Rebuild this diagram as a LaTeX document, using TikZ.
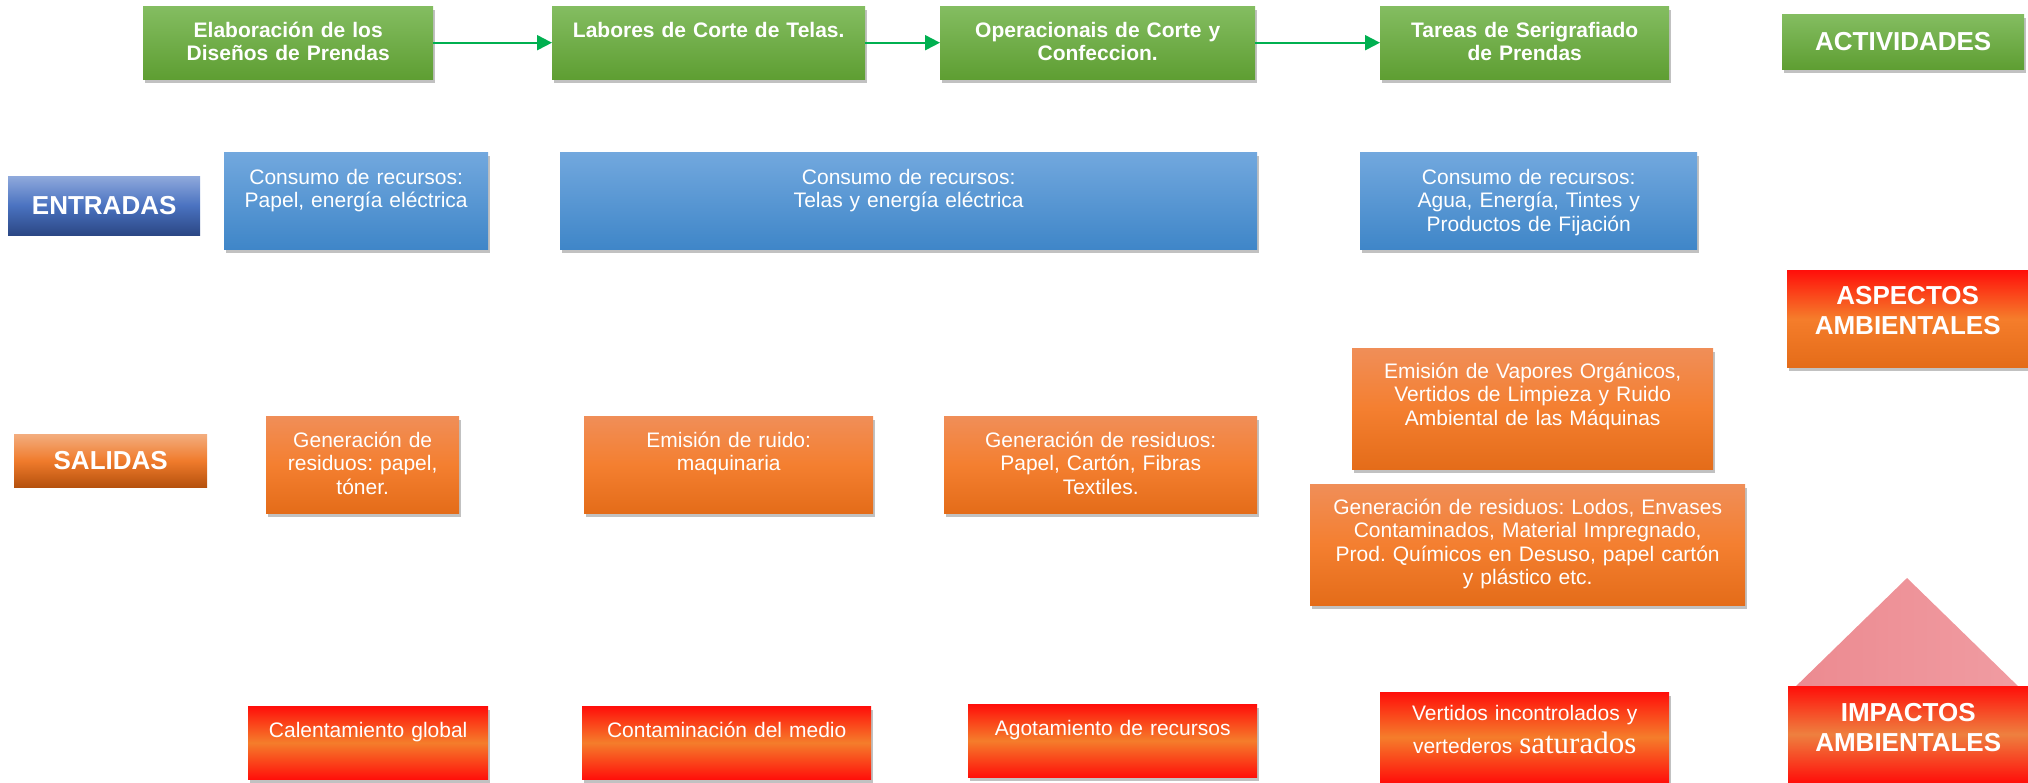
\documentclass[tikz,border=0pt]{standalone}
\usepackage{fontspec}
\setmainfont{Liberation Sans}
\newfontfamily\serifface{Liberation Serif}
\usepackage{tikz}
\usetikzlibrary{arrows.meta,positioning,shadows}
\frenchspacing
\definecolor{actgreenT}{HTML}{84BD61}
\definecolor{actgreenB}{HTML}{5E9E32}
\definecolor{inblueT}{HTML}{72A8DE}
\definecolor{inblueB}{HTML}{3F86C8}
\definecolor{entT}{HTML}{8FA9DC}
\definecolor{entM}{HTML}{4A72C0}
\definecolor{entB}{HTML}{2B4785}
\definecolor{salT}{HTML}{F3AD7E}
\definecolor{salM}{HTML}{F07B2C}
\definecolor{salB}{HTML}{B5510D}
\definecolor{outT}{HTML}{F08E58}
\definecolor{outM}{HTML}{F47F30}
\definecolor{outB}{HTML}{E46C19}
\definecolor{impR}{HTML}{FF0F0A}
\definecolor{impO}{HTML}{F57D2B}
\definecolor{impM}{HTML}{EE803F}
\definecolor{flowgreen}{HTML}{00B050}
\definecolor{pinkL}{HTML}{EC8A90}
\definecolor{pinkR}{HTML}{F09CA2}

\begin{document}
\begin{tikzpicture}[x=1pt,y=-1pt,
  every node/.style={inner sep=0pt,text=white,align=center,font=\fontsize{21}{23.5}\selectfont},
  box/.style n args={3}{anchor=north west,text width=#1pt,text height=#3pt,text depth={(#2-#3)*1pt}},
  tag/.style 2 args={anchor=north west,minimum width=#1pt,minimum height=#2pt,font=\fontsize{26}{30}\selectfont\bfseries},
  shad/.style={drop shadow={shadow xshift=1.5pt,shadow yshift=-4pt,opacity=0.35,fill=black!70}},
  act/.style={top color=actgreenT,bottom color=actgreenB,font=\fontsize{21}{23.5}\selectfont\bfseries,shad},
  inp/.style={top color=inblueT,bottom color=inblueB,shad},
  outp/.style={top color=outT,bottom color=outB,middle color=outM,shad},
  imp/.style={top color=impR,bottom color=impR,middle color=impO,shad},
  flow/.style={-{Triangle[length=15pt,width=15pt]},line width=2pt,draw=flowgreen}
]
  \useasboundingbox (0,0) rectangle (2028,782);
  % Activities row
  \node[act,box={290}{73}{31}] (elab) at (143,6) {Elaboración de los\\Diseños de Prendas};
  \node[act,box={313}{73}{31}] (cort) at (552,6) {Labores de Corte de Telas.};
  \node[act,box={315}{73}{31}] (conf) at (940,6) {Operacionais de Corte y\\Confeccion.};
  \node[act,box={289}{73}{31}] (seri) at (1380,6) {Tareas de Serigrafiado\\de Prendas};
  \node[tag={242}{55},top color=actgreenT,bottom color=actgreenB,shad] (actv) at (1782,14) {ACTIVIDADES};
  \draw[flow] (elab) -- (cort);
  \draw[flow] (cort) -- (conf);
  \draw[flow] (conf) -- (seri);
  % Inputs
  \node[tag={192}{59},top color=entT,bottom color=entB,middle color=entM] (entr) at (8,176) {ENTRADAS};
  \node[inp,box={264}{97}{32}] (in1) at (224,152) {Consumo de recursos:\\Papel, energía eléctrica};
  \node[inp,box={697}{97}{32}] (in2) at (560,152) {Consumo de recursos:\\Telas y energía eléctrica};
  \node[inp,box={337}{97}{32}] (in3) at (1360,152) {Consumo de recursos:\\Agua, Energía, Tintes y\\Productos de Fijación};
  % Environmental aspects
  \node[tag={241}{97},box={241}{97}{34},top color=impR,bottom color=outB,middle color=impO,shad] (aspt) at (1787,270) {ASPECTOS\\AMBIENTALES};
  % Outputs
  \node[tag={193}{53},top color=salT,bottom color=salB,middle color=salM] (sali) at (14,434) {SALIDAS};
  \node[outp,box={193}{97}{31}] (out1) at (266,416) {Generación de\\residuos: papel,\\tóner.};
  \node[outp,box={289}{97}{31}] (out2) at (584,416) {Emisión de ruido:\\maquinaria};
  \node[outp,box={313}{97}{31}] (out3) at (944,416) {Generación de residuos:\\Papel, Cartón, Fibras\\Textiles.};
  \node[outp,box={361}{121}{30}] (out4) at (1352,348) {Emisión de Vapores Orgánicos,\\Vertidos de Limpieza y Ruido\\Ambiental de las Máquinas};
  \node[outp,box={435}{121}{30}] (out5) at (1310,484) {Generación de residuos: Lodos, Envases\\Contaminados, Material Impregnado,\\Prod. Químicos en Desuso, papel cartón\\y plástico etc.};
  % Impacts (triangle sits behind the label)
  \shade[left color=pinkL,right color=pinkR] (1907,578) -- (2022,690) -- (1792,690) -- cycle;
  \node[imp,box={240}{73}{31}] (imp1) at (248,706) {Calentamiento global};
  \node[imp,box={289}{73}{31}] (imp2) at (582,706) {Contaminación del medio};
  \node[imp,box={289}{73}{31}] (imp3) at (968,704) {Agotamiento de recursos};
  \node[imp,box={289}{90}{28}] (imp4) at (1380,692) {Vertidos incontrolados y\\[6pt]vertederos {\serifface\fontsize{31}{33}\selectfont saturados}};
  \node[tag={240}{96},box={240}{96}{35},top color=impR,bottom color=impR,middle color=impM] (impt) at (1788,686) {IMPACTOS\\AMBIENTALES};
\end{tikzpicture}
\end{document}
